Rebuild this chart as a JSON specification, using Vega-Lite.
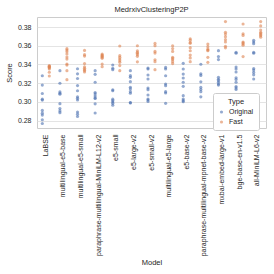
{
  "$schema": "https://vega.github.io/schema/vega-lite/v6.json",
  "width": 229,
  "height": 111,
  "autosize": {"type": "none"},
  "padding": {"left": 37, "top": 17, "right": 8, "bottom": 146},
  "title": {"text": "MedrxivClusteringP2P", "fontSize": 7.5, "font": "Liberation Sans", "fontWeight": "normal", "color": "#262626", "offset": 4},
  "data": {"values": [
    {"Model": "LaBSE", "Type": "Original", "Score": [0.328,0.318,0.309,0.303,0.302,0.291,0.288,0.286,0.281,0.277]},
    {"Model": "LaBSE", "Type": "Fast", "Score": [0.3388,0.3380,0.3377,0.3370,0.3363,0.3352,0.3317,0.3277]},
    {"Model": "multilingual-e5-base", "Type": "Original", "Score": [0.3334,0.3200,0.3107,0.3093,0.3082,0.2982,0.2929,0.2904,0.2886]},
    {"Model": "multilingual-e5-base", "Type": "Fast", "Score": [0.3569,0.3554,0.3537,0.3512,0.3480,0.3458,0.3405,0.3394,0.3334,0.3238]},
    {"Model": "multilingual-e5-small", "Type": "Original", "Score": [0.3355,0.3300,0.3250,0.3175,0.3120,0.3055,0.3039,0.3021,0.2893,0.2870,0.2845]},
    {"Model": "multilingual-e5-small", "Type": "Fast", "Score": [0.3550,0.3505,0.3490,0.3410,0.3375,0.3360,0.3345,0.3335,0.3320]},
    {"Model": "paraphrase-multilingual-MiniLM-L12-v2", "Type": "Original", "Score": [0.3334,0.3295,0.3210,0.3100,0.3086,0.3064,0.3043,0.3037,0.2980,0.2882]},
    {"Model": "paraphrase-multilingual-MiniLM-L12-v2", "Type": "Fast", "Score": [0.3512,0.3500,0.3494,0.3485,0.3476,0.3466,0.3405,0.3377]},
    {"Model": "e5-small", "Type": "Original", "Score": [0.3395,0.3360,0.3345,0.3130,0.3120,0.3030,0.3015,0.3000,0.2985,0.2965]},
    {"Model": "e5-small", "Type": "Fast", "Score": [0.3597,0.3494,0.3476,0.3458,0.3441,0.3423,0.3388,0.3334]},
    {"Model": "e5-large-v2", "Type": "Original", "Score": [0.3334,0.3281,0.3263,0.3217,0.3157,0.3139,0.3110,0.3093,0.2993,0.2990]},
    {"Model": "e5-large-v2", "Type": "Fast", "Score": [0.3600,0.3547,0.3530,0.3519,0.3505,0.3487,0.3428]},
    {"Model": "e5-small-v2", "Type": "Original", "Score": [0.3362,0.3352,0.3288,0.3245,0.3149,0.3131,0.3074,0.3031,0.3021,0.3005]},
    {"Model": "e5-small-v2", "Type": "Fast", "Score": [0.3625,0.3600,0.3540,0.3522,0.3451,0.3430,0.3345]},
    {"Model": "multilingual-e5-large", "Type": "Original", "Score": [0.3369,0.3352,0.3280,0.3192,0.3174,0.3110,0.3096,0.2985]},
    {"Model": "multilingual-e5-large", "Type": "Fast", "Score": [0.3600,0.3570,0.3540,0.3476,0.3465,0.3451,0.3430,0.3410]},
    {"Model": "e5-base-v2", "Type": "Original", "Score": [0.3412,0.3352,0.3298,0.3256,0.3210,0.3167,0.3067,0.3031,0.3014,0.3003]},
    {"Model": "e5-base-v2", "Type": "Fast", "Score": [0.3675,0.3660,0.3636,0.3626,0.3580,0.3547,0.3500,0.3470,0.3430]},
    {"Model": "paraphrase-multilingual-mpnet-base-v2", "Type": "Original", "Score": [0.3403,0.3300,0.3283,0.3215,0.3155,0.3133,0.3110,0.3055]},
    {"Model": "paraphrase-multilingual-mpnet-base-v2", "Type": "Fast", "Score": [0.3618,0.3590,0.3565,0.3555,0.3548,0.3476,0.3423]},
    {"Model": "mxbai-embed-large-v1", "Type": "Original", "Score": [0.3548,0.3484,0.3452,0.3263,0.3242,0.3228,0.3210,0.3192,0.3180]},
    {"Model": "mxbai-embed-large-v1", "Type": "Fast", "Score": [0.3858,0.3743,0.3725,0.3697,0.3665,0.3640,0.3595,0.3578]},
    {"Model": "bge-base-en-v1.5", "Type": "Original", "Score": [0.3530,0.3520,0.3373,0.3352,0.3320,0.3258,0.3240,0.3210,0.3165,0.3150,0.3133]},
    {"Model": "bge-base-en-v1.5", "Type": "Fast", "Score": [0.3832,0.3728,0.3710,0.3640,0.3630,0.3620,0.3605,0.3484]},
    {"Model": "all-MiniLM-L6-v2", "Type": "Original", "Score": [0.3658,0.3640,0.3622,0.3530,0.3520,0.3356,0.3340,0.3315,0.3290,0.3245]},
    {"Model": "all-MiniLM-L6-v2", "Type": "Fast", "Score": [0.3858,0.3812,0.3768,0.3743,0.3732,0.3718,0.3707,0.3692]}
  ]},
  "transform": [{"flatten": ["Score"]}],
  "mark": {"type": "circle", "size": 10, "opacity": 0.6},
  "encoding": {
    "x": {
      "field": "Model", "type": "nominal",
      "sort": ["LaBSE","multilingual-e5-base","multilingual-e5-small","paraphrase-multilingual-MiniLM-L12-v2","e5-small","e5-large-v2","e5-small-v2","multilingual-e5-large","e5-base-v2","paraphrase-multilingual-mpnet-base-v2","mxbai-embed-large-v1","bge-base-en-v1.5","all-MiniLM-L6-v2"],
      "scale": {"paddingInner": 0, "paddingOuter": 0},
      "axis": {"labelAngle": -90, "grid": false, "title": "Model", "labelPadding": 6, "titlePadding": 3}
    },
    "xOffset": {"field": "Type", "type": "nominal", "sort": ["Original", "Fast"], "scale": {"type": "point", "padding": 0.757}},
    "y": {
      "field": "Score", "type": "quantitative",
      "scale": {"domain": [0.2722, 0.3907], "nice": false, "zero": false},
      "axis": {"values": [0.28, 0.30, 0.32, 0.34, 0.36, 0.38], "format": ".2f", "title": "Score", "labelPadding": 6, "titlePadding": 4}
    },
    "color": {
      "field": "Type", "type": "nominal",
      "scale": {"domain": ["Original", "Fast"], "range": ["#4c72b0", "#dd8452"]},
      "legend": {
        "orient": "none", "legendX": 176, "legendY": 76,
        "title": "Type", "titleAnchor": "middle", "titleFontSize": 7.5, "titleFontWeight": "normal", "titleColor": "#262626", "titleFont": "Liberation Sans", "titlePadding": 3,
        "labelFontSize": 7, "labelFont": "Liberation Sans", "labelColor": "#262626",
        "symbolType": "circle", "symbolSize": 10, "symbolOpacity": 0.6, "symbolStrokeWidth": 0,
        "fillColor": "white", "strokeColor": "#cccccc", "cornerRadius": 2, "padding": 5, "rowPadding": 2
      }
    }
  },
  "config": {
    "view": {"stroke": "#cccccc", "strokeWidth": 1},
    "axis": {
      "domain": false, "ticks": false, "gridColor": "#dddddd", "gridWidth": 0.8,
      "labelFont": "Liberation Sans", "labelFontSize": 7, "labelColor": "#262626",
      "titleFont": "Liberation Sans", "titleFontSize": 7.5, "titleFontWeight": "normal", "titleColor": "#262626"
    }
  }
}
